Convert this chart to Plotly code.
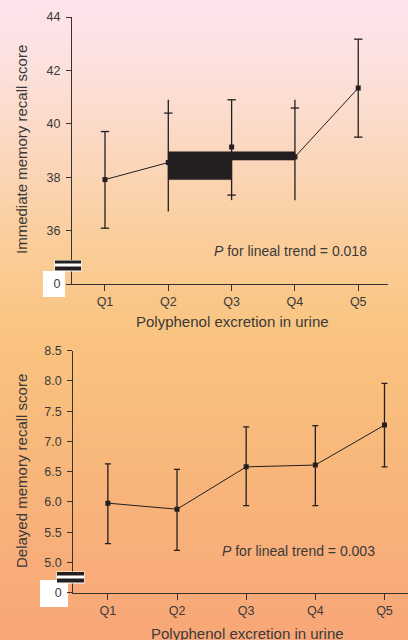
import plotly.graph_objects as go

W, H = 408, 640

# ---------------- data ----------------
quintiles = ["Q1", "Q2", "Q3", "Q4", "Q5"]
quintile_pos = [1, 2, 3, 4, 5]

# Immediate memory recall score
imm_mean = [37.91, 38.55, 39.13, 38.76, 41.34]
imm_bar_top = [39.71, 40.90, 40.90, 40.90, 43.17]
imm_bar_bottom = [36.09, 36.72, 37.14, 37.14, 39.50]
imm_cap_pos = [1, 1, 2, 3, 3, 4, 5, 5]
imm_cap_vals = [39.71, 36.09, 40.40, 40.90, 37.33, 40.59, 43.17, 39.50]
imm_block_pos = [2.5, 3.5]
imm_block_low = [37.91, 38.64]
imm_block_high = [38.95, 38.95]
imm_ticks = [34, 36, 38, 40, 42, 44]
imm_ticklabels = ["0", "36", "38", "40", "42", "44"]
imm_ptext = "<i>P</i> for lineal trend = 0.018"

# Delayed memory recall score
del_mean = [5.98, 5.88, 6.58, 6.61, 7.27]
del_upper = [6.63, 6.54, 7.24, 7.26, 7.96]
del_lower = [5.31, 5.20, 5.94, 5.94, 6.58]
del_ticks = [4.5, 5.0, 5.5, 6.0, 6.5, 7.0, 7.5, 8.0, 8.5]
del_ticklabels = ["0", "5.0", "5.5", "6.0", "6.5", "7.0", "7.5", "8.0", "8.5"]
del_ptext = "<i>P</i> for lineal trend = 0.003"

x_title = "Polyphenol excretion in urine"
imm_title = "Immediate memory recall score"
del_title = "Delayed memory recall score"

# ---------------- helpers ----------------
def px(x):
    return x / W

def py(y):
    return 1 - y / H

INK = "#231f20"
TXT = "#3a3a3a"
FONT = "Liberation Sans, Arial, sans-serif"

fig = go.Figure()

# --- top panel ---
imm_line_y = [None if q == "Q3" else v for q, v in zip(quintiles, imm_mean)]
fig.add_trace(go.Scatter(x=quintile_pos, y=imm_line_y, mode="lines",
                         line=dict(color=INK, width=1), connectgaps=False,
                         xaxis="x", yaxis="y", hoverinfo="skip"))
bx, by = [], []
for p, lo, hi in zip(imm_block_pos, imm_block_low, imm_block_high):
    bx += [p - 0.5, p + 0.5, p + 0.5, p - 0.5, p - 0.5, None]
    by += [lo, lo, hi, hi, lo, None]
fig.add_trace(go.Scatter(x=bx, y=by, mode="lines", fill="toself",
                         fillcolor=INK, line=dict(color=INK, width=0.5),
                         xaxis="x", yaxis="y", hoverinfo="skip"))
fig.add_trace(go.Scatter(
    x=quintile_pos, y=imm_mean, mode="markers",
    marker=dict(symbol="square", size=5, color=INK),
    error_y=dict(type="data", symmetric=False,
                 array=[t - m for t, m in zip(imm_bar_top, imm_mean)],
                 arrayminus=[m - b for m, b in zip(imm_mean, imm_bar_bottom)],
                 width=0, thickness=1.3, color=INK),
    xaxis="x", yaxis="y", hoverinfo="skip"))
fig.add_trace(go.Scatter(x=imm_cap_pos, y=imm_cap_vals, mode="markers",
                         marker=dict(symbol="line-ew", size=6,
                                     line=dict(color=INK, width=1.3)),
                         xaxis="x", yaxis="y", hoverinfo="skip"))

# --- bottom panel ---
fig.add_trace(go.Scatter(
    x=quintile_pos, y=del_mean, mode="lines+markers",
    line=dict(color=INK, width=1),
    marker=dict(symbol="square", size=5, color=INK),
    error_y=dict(type="data", symmetric=False,
                 array=[u - m for u, m in zip(del_upper, del_mean)],
                 arrayminus=[m - l for m, l in zip(del_mean, del_lower)],
                 width=3, thickness=1.3, color=INK),
    xaxis="x2", yaxis="y2", hoverinfo="skip"))

axis_common = dict(showline=True, linecolor="#333333", linewidth=1.2,
                   ticks="outside", tickwidth=1, tickcolor="#333333",
                   showgrid=False, zeroline=False, automargin=False,
                   tickfont=dict(family=FONT, size=12.5, color=TXT))

fig.update_layout(
    template="none",
    width=W, height=H,
    margin=dict(l=0, r=0, t=0, b=0, pad=0, autoexpand=False),
    paper_bgcolor="rgba(0,0,0,0)", plot_bgcolor="rgba(0,0,0,0)",
    showlegend=False,
    font=dict(family=FONT, color=TXT),
    xaxis=dict(domain=[px(72), px(388)], range=[0.479, 5.47],
               tickvals=quintile_pos, ticktext=quintiles, anchor="y",
               ticklen=6, **axis_common),
    yaxis=dict(domain=[py(284), py(17)], range=[34, 44],
               tickvals=imm_ticks, ticktext=imm_ticklabels, anchor="x",
               ticklen=5, ticklabelstandoff=3, **axis_common),
    xaxis2=dict(domain=[px(73.3), 1.0], range=[0.5, 5.34],
                tickvals=quintile_pos, ticktext=quintiles, anchor="y2",
                ticklen=6, **axis_common),
    yaxis2=dict(domain=[py(592.7), py(350.7)], range=[4.5, 8.5],
                tickvals=del_ticks, ticktext=del_ticklabels, anchor="x2",
                ticklen=5, ticklabelstandoff=3, **axis_common),
)

# ---------------- background gradient ----------------
stops = [(0.0, (253, 228, 236)), (0.10, (252, 225, 222)), (0.235, (251, 215, 190)),
         (0.40, (250, 204, 150)), (0.52, (249, 196, 127)), (0.77, (248, 180, 122)),
         (1.0, (248, 166, 119))]

def col(t):
    for (t0, c0), (t1, c1) in zip(stops[:-1], stops[1:]):
        if t <= t1:
            f = (t - t0) / (t1 - t0) if t1 > t0 else 0
            return "rgb(%d,%d,%d)" % tuple(round(a + (b - a) * f) for a, b in zip(c0, c1))
    return "rgb(%d,%d,%d)" % stops[-1][1]

shapes = []
N = 160
for i in range(N):
    t = (i + 0.5) / N
    shapes.append(dict(type="rect", xref="paper", yref="paper", layer="below",
                       x0=0, x1=1, y0=1 - (i + 1) / N - 0.002, y1=1 - i / N,
                       fillcolor=col(t), line=dict(width=0)))

# white boxes behind the "0" labels
for (x0, x1, y0, y1) in [(43, 65, 271, 297), (40, 68, 580, 607)]:
    shapes.append(dict(type="rect", xref="paper", yref="paper", layer="below",
                       x0=px(x0), x1=px(x1), y0=py(y1), y1=py(y0),
                       fillcolor="white", line=dict(width=0)))

# axis-break symbols
for (x0, x1, ytop, b1, w1, b2) in [(55, 81, 260.5, 263.5, 266.5, 270.5),
                                    (57, 84, 572.0, 575.5, 578.5, 582.5)]:
    shapes.append(dict(type="rect", xref="paper", yref="paper", layer="above",
                       x0=px(x0 - 0.5), x1=px(x1 + 0.5), y0=py(b2 + 1), y1=py(ytop - 0.5),
                       fillcolor="white", line=dict(width=0)))
    shapes.append(dict(type="rect", xref="paper", yref="paper", layer="above",
                       x0=px(x0), x1=px(x1), y0=py(b1), y1=py(ytop),
                       fillcolor=INK, line=dict(width=0)))
    shapes.append(dict(type="rect", xref="paper", yref="paper", layer="above",
                       x0=px(x0), x1=px(x1), y0=py(b2), y1=py(w1),
                       fillcolor=INK, line=dict(width=0)))

fig.update_layout(shapes=shapes)

# ---------------- annotations ----------------
def note(text, x, y, size, angle=0):
    return dict(text=text, x=px(x), y=py(y), xref="paper", yref="paper",
                xanchor="center", yanchor="middle", textangle=angle,
                showarrow=False, font=dict(size=size, color=TXT))

ann = [
    note(imm_title, 21, 150, 15, -90),
    note(del_title, 21, 471, 15, -90),
    note(x_title, 232.5, 321.7, 15),
    note(x_title, 248, 633, 15),
    note(imm_ptext, 290, 250.7, 14),
    note(del_ptext, 298, 551, 14),
]
fig.update_layout(annotations=ann)

fig.write_html("out.html", config={"displayModeBar": False},
               post_script="document.body.style.margin='0';document.body.style.overflow='hidden';")
